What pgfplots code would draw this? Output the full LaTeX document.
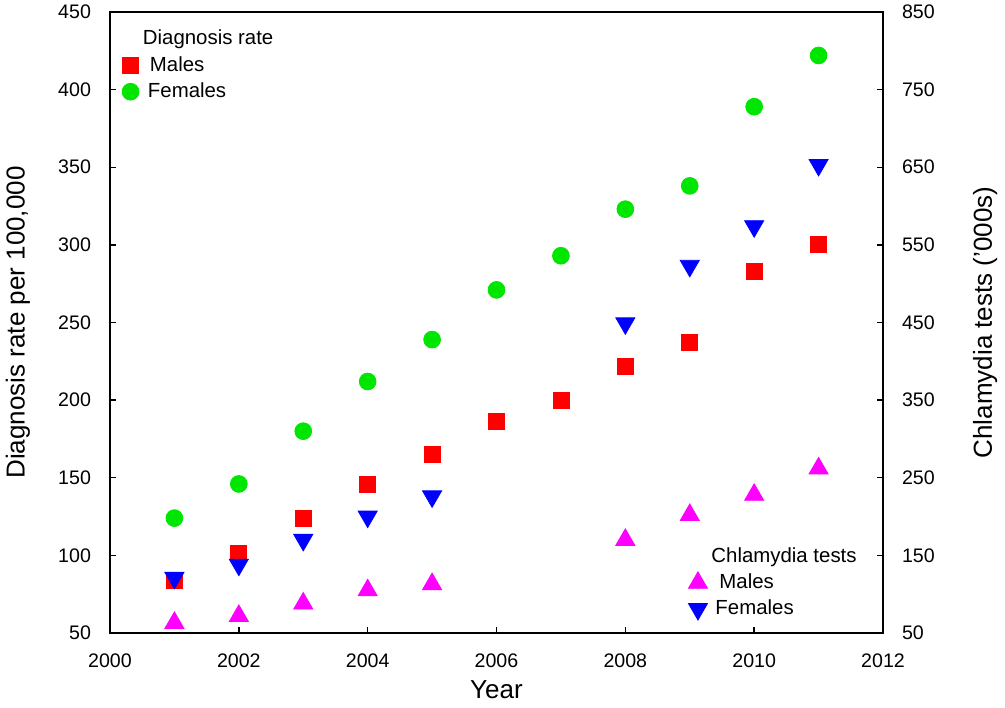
\documentclass[border=0pt]{standalone}
\usepackage{fontspec}
\setmainfont{Liberation Sans}
\usepackage{pgfplots}
\pgfplotsset{compat=1.18}
\definecolor{mgreen}{RGB}{0,230,0}
\definecolor{mmagenta}{RGB}{255,0,255}
\definecolor{mblue}{RGB}{0,0,255}
\definecolor{mred}{RGB}{255,0,0}

\begin{document}
\begin{tikzpicture}
\pgfplotsset{
  common/.style={
    scale only axis, width=386.5pt, height=310.5pt,
    xmin=2000, xmax=2012,
    tick align=inside, major tick length=3pt,
    axis line style={line width=1pt},
    every tick/.style={black, line width=0.7pt},
    /pgf/number format/assume math mode=true,
    tick label style={font=\fontsize{9.8}{11}\selectfont},
    label style={font=\fontsize{13}{15}\selectfont},
    legend style={draw=none, fill=none, font=\fontsize{10.2}{11}\selectfont,
      row sep=-1.4pt, inner sep=0pt,
      nodes={text height=8pt, text depth=2.5pt}},
    legend cell align=left,
  }
}
\begin{axis}[common,
  ymin=50, ymax=450, ytick={50,100,...,450},
  xtick={2000,2002,...,2012},
  xtick pos=bottom, ytick pos=left,
  x tick label style={/pgf/number format/1000 sep={}, yshift=-7pt},
  y tick label style={xshift=-6pt},
  xlabel={Year}, ylabel={Diagnosis rate per 100,000},
  xlabel style={at={(axis description cs:0.5,-0.092)}, anchor=center},
  ylabel style={at={(axis description cs:-0.119,0.5)}, anchor=center},
  legend style={at={(rel axis cs:0.004,0.98)}, anchor=north west},
]
\addlegendimage{empty legend}
\addlegendentry{Diagnosis rate}
\addplot[only marks, mark=square*, mark size=4pt, color=mred] coordinates {
(2001,84) (2002,101) (2003,124) (2004,146) (2005,165) (2006,186)
(2007,200) (2008,222) (2009,237) (2010,283) (2011,300)
};
\addlegendentry{\hspace{3.5pt}Males}
\addplot[only marks, mark=*, mark size=4.2pt, color=mgreen] coordinates {
(2001,124) (2002,146) (2003,180) (2004,212) (2005,239) (2006,271)
(2007,293) (2008,323) (2009,338) (2010,389) (2011,422)
};
\addlegendentry{\hspace{2.5pt}Females}
\end{axis}

\begin{axis}[common,
  ymin=50, ymax=850, ytick={50,150,...,850},
  axis x line=none, axis y line*=right,
  y tick label style={xshift=6pt},
  ylabel={Chlamydia tests ('000s)},
  ylabel style={at={(axis description cs:1.132,0.5)}, anchor=center},
  legend style={at={(rel axis cs:0.738,0.147)}, anchor=north west},
]
\addlegendimage{empty legend}
\addlegendentry{Chlamydia tests}
\addplot[only marks, mark=triangle*, mark size=5.5pt, color=mmagenta] coordinates {
(2001,63) (2002,72) (2003,88) (2004,105) (2005,113)
(2008,170) (2009,202) (2010,228) (2011,262)
};
\addlegendentry{\hspace{4pt}Males}
\addplot[only marks, mark=triangle*, mark size=5.5pt, color=mblue,
  mark options={rotate=180}] coordinates {
(2001,121) (2002,138) (2003,170) (2004,200) (2005,226)
(2008,449) (2009,523) (2010,574) (2011,653)
};
\addlegendentry{\hspace{2pt}Females}
\end{axis}
\pgfresetboundingbox
\path (-55pt,-37pt) rectangle (447.5pt,316.5pt);
\end{tikzpicture}
\end{document}
